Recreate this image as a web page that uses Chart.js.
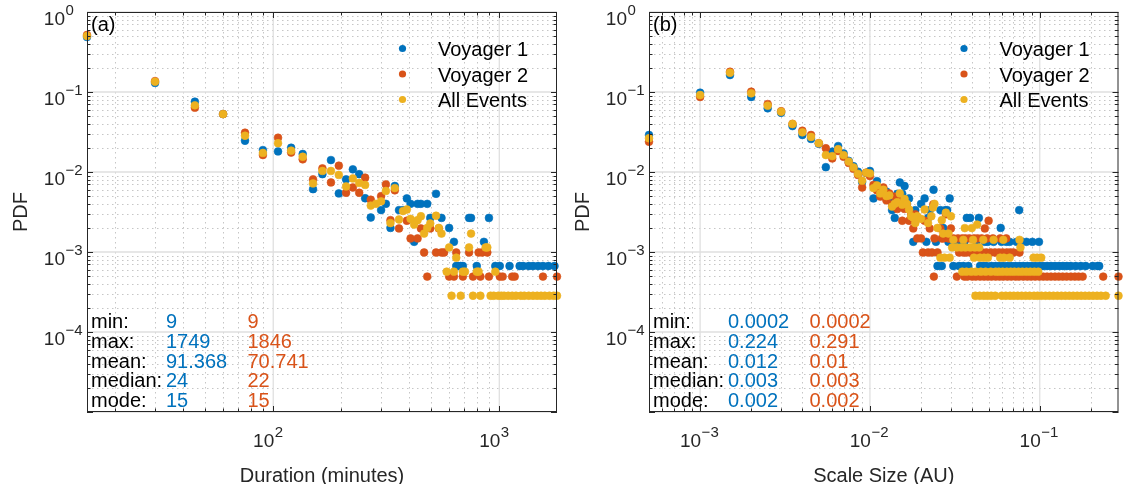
<!DOCTYPE html>
<html>
<head>
<meta charset="utf-8">
<script src="https://cdn.jsdelivr.net/npm/chart.js@4.4.1/dist/chart.umd.min.js"></script>
<style>
  html, body { margin: 0; padding: 0; background: #ffffff; }
  #wrap { position: relative; width: 1123px; height: 484px; overflow: hidden; }
  canvas { position: absolute; top: 0; }
  #ca { left: 0; }
  #cb { left: 562px; }
</style>
</head>
<body>
<div id="wrap">
  <canvas id="ca" width="562" height="484"></canvas>
  <canvas id="cb" width="561" height="484"></canvas>
</div>
<script>
// ---- series names, colours, summary statistics ----
const seriesNames = ['Voyager 1', 'Voyager 2', 'All Events'];
const seriesColors = ['#0072BD', '#D95319', '#EDB120'];
const statNames = ['min:', 'max:', 'mean:', 'median:', 'mode:'];
const durStatsV1 = ['9', '1749', '91.368', '24', '15'];
const durStatsV2 = ['9', '1846', '70.741', '22', '15'];
const sizeStatsV1 = ['0.0002', '0.224', '0.012', '0.003', '0.002'];
const sizeStatsV2 = ['0.0002', '0.291', '0.01', '0.003', '0.002'];

// ---- axis ranges ----
const durRange = [15, 1800];
const sizeRange = [0.0005, 0.291];
const pdfRange = [1e-5, 1];

// ---- (a) duration in minutes vs PDF ----
const durV1 = [
  [15,0.487],[30,0.13],[45,0.0757],[60,0.053],[75,0.0246],[90,0.0188],[105,0.0181],[120,0.0201],
  [135,0.0168],[150,0.0061],[165,0.0094],[180,0.0141],[195,0.0054],[210,0.0081],[225,0.0108],
  [240,0.0094],[255,0.0047],[270,0.0027],[300,0.00334],[315,0.004],[330,0.002],[345,0.00668],
  [360,0.00334],[375,0.00334],[390,0.00468],[405,0.004],[420,0.00134],[435,0.004],[450,0.004],
  [480,0.004],[495,0.00267],[525,0.00534],[555,0.00267],[600,0.002],[630,0.00134],[645,0.000668],
  [660,0.000668],[675,0.000668],[690,0.000668],[735,0.00267],[750,0.00267],[795,0.000668],
  [855,0.00134],[900,0.00267],[960,0.000668],[1005,0.000668],[1110,0.000668],[1230,0.000668],
  [1275,0.000668],[1350,0.000668],[1410,0.000668],[1485,0.000668],[1560,0.000668],[1650,0.000668],
  [1755,0.000668]
];
const durV2 = [
  [15,0.516],[30,0.137],[45,0.0637],[60,0.053],[75,0.031],[90,0.0163],[105,0.0268],[120,0.0175],
  [135,0.0144],[150,0.0081],[165,0.0111],[180,0.0074],[195,0.012],[210,0.0055],[225,0.0064],
  [240,0.0055],[255,0.0085],[270,0.0045],[300,0.005],[315,0.007],[330,0.0025],[345,0.0059],
  [360,0.00197],[390,0.00246],[405,0.00148],[435,0.00148],[450,0.00197],[465,0.000986],
  [480,0.000493],[495,0.00197],[525,0.000986],[540,0.00197],[555,0.000986],[570,0.000986],
  [600,0.000493],[630,0.000493],[645,0.000986],[690,0.000493],[735,0.000986],[765,0.000493],
  [810,0.000986],[825,0.000493],[840,0.000986],[885,0.000986],[900,0.000493],[1005,0.000493],
  [1035,0.000493],[1140,0.000493],[1170,0.000493],[1560,0.000493],[1800,0.000493]
];
const durAll = [
  [15,0.501],[30,0.1345],[45,0.0682],[60,0.053],[75,0.0284],[90,0.0173],[105,0.0229],[120,0.0185],
  [135,0.0155],[150,0.0072],[165,0.0103],[180,0.0103],[195,0.0092],[210,0.0066],[225,0.0083],
  [240,0.0073],[255,0.0069],[270,0.0038],[285,0.004],[300,0.0043],[315,0.0058],[330,0.0023],
  [345,0.0063],[360,0.00255],[375,0.00325],[390,0.0034],[405,0.0026],[420,0.0022],[435,0.0025],
  [450,0.0028],[465,0.0017],[480,0.002],[495,0.00227],[525,0.00284],[540,0.002],[555,0.0017],
  [585,0.000568],[600,0.00114],[615,0.000284],[630,0.000568],[645,0.00085],[675,0.000284],
  [690,0.000568],[705,0.000568],[735,0.00114],[750,0.0017],[765,0.000284],[795,0.000568],
  [810,0.000568],[825,0.000284],[870,0.00114],[885,0.00114],[915,0.000284],[945,0.000284],
  [960,0.000568],[990,0.000284],[1020,0.000284],[1050,0.000284],[1095,0.000284],[1140,0.000284],
  [1185,0.000284],[1245,0.000284],[1290,0.000284],[1350,0.000284],[1410,0.000284],[1470,0.000284],
  [1530,0.000284],[1590,0.000284],[1665,0.000284],[1740,0.000284],[1800,0.000284]
];

// ---- (b) scale size in AU vs PDF ----
const sizeV1 = [
  [0.0005,0.029],[0.001,0.098],[0.0015,0.163],[0.002,0.0866],[0.0025,0.0625],[0.003,0.055],
  [0.0035,0.0375],[0.004,0.029],[0.0045,0.0259],[0.005,0.0225],[0.0055,0.0115],[0.006,0.018],
  [0.0065,0.0211],[0.007,0.0171],[0.0075,0.0138],[0.008,0.0118],[0.0085,0.0101],[0.009,0.0075],
  [0.0095,0.0097],[0.01,0.0103],[0.0105,0.00468],[0.011,0.0077],[0.0115,0.006],[0.0125,0.0057],
  [0.013,0.00468],[0.0135,0.00334],[0.014,0.00267],[0.0145,0.00534],[0.015,0.0074],[0.0155,0.00534],
  [0.016,0.00668],[0.0165,0.004],[0.017,0.00468],[0.0175,0.00267],[0.018,0.00134],[0.0185,0.00334],
  [0.019,0.00267],[0.02,0.004],[0.021,0.00468],[0.0215,0.00134],[0.022,0.00267],[0.0225,0.00334],
  [0.0237,0.006],[0.0245,0.00134],[0.025,0.000668],[0.026,0.00334],[0.0265,0.000668],[0.027,0.002],
  [0.0278,0.00334],[0.0285,0.00334],[0.029,0.00134],[0.0295,0.00468],[0.0305,0.00134],[0.031,0.000668],
  [0.0315,0.00134],[0.0335,0.000668],[0.034,0.00134],[0.0355,0.000668],[0.036,0.00134],[0.0372,0.00267],
  [0.038,0.000668],[0.0389,0.00267],[0.0425,0.00134],[0.0438,0.00267],[0.0445,0.000668],[0.0465,0.000668],
  [0.0475,0.00134],[0.0485,0.000668],[0.0495,0.00134],[0.052,0.000668],[0.0535,0.00134],[0.055,0.000668],
  [0.058,0.000668],[0.0589,0.002],[0.0595,0.00134],[0.061,0.000668],[0.0635,0.00134],[0.0645,0.000668],
  [0.0665,0.00134],[0.068,0.000668],[0.072,0.000668],[0.073,0.00134],[0.0757,0.00334],[0.076,0.000668],
  [0.078,0.00134],[0.08,0.000668],[0.0835,0.00134],[0.0845,0.000668],[0.089,0.000668],[0.0905,0.00134],
  [0.094,0.000668],[0.099,0.00134],[0.0995,0.000668],[0.1045,0.000668],[0.1105,0.000668],[0.1165,0.000668],
  [0.123,0.000668],[0.13,0.000668],[0.137,0.000668],[0.1445,0.000668],[0.1525,0.000668],[0.163,0.000668],
  [0.1745,0.000668],[0.1865,0.000668],[0.205,0.000668],[0.219,0.000668],[0.224,0.000668]
];
const sizeV2 = [
  [0.0005,0.0239],[0.001,0.0866],[0.0015,0.179],[0.002,0.101],[0.0025,0.0707],[0.003,0.0575],
  [0.0035,0.04],[0.004,0.0328],[0.0045,0.029],[0.005,0.0229],[0.0055,0.0198],[0.006,0.0148],
  [0.0065,0.0183],[0.007,0.0155],[0.0075,0.013],[0.008,0.011],[0.0085,0.0092],[0.009,0.0064],
  [0.0095,0.0098],[0.01,0.0089],[0.0105,0.0069],[0.011,0.0059],[0.0115,0.00493],[0.012,0.0064],
  [0.0125,0.00443],[0.013,0.0054],[0.0135,0.00394],[0.014,0.00493],[0.0145,0.00345],[0.015,0.00443],
  [0.0155,0.00246],[0.016,0.00345],[0.0165,0.00394],[0.017,0.00246],[0.0175,0.00296],[0.018,0.00197],
  [0.0185,0.00296],[0.019,0.00148],[0.02,0.00148],[0.0205,0.000986],[0.021,0.00246],[0.022,0.000986],
  [0.0225,0.00197],[0.0232,0.000986],[0.0236,0.00394],[0.0238,0.000493],[0.024,0.00148],[0.025,0.000986],
  [0.026,0.00197],[0.0265,0.00148],[0.027,0.00148],[0.028,0.00296],[0.029,0.00148],[0.0295,0.00148],
  [0.03,0.00197],[0.031,0.00148],[0.0325,0.000493],[0.033,0.00148],[0.0335,0.000986],[0.035,0.00148],
  [0.0355,0.000986],[0.036,0.000493],[0.0365,0.00148],[0.037,0.000986],[0.0375,0.000493],[0.0385,0.00148],
  [0.039,0.000986],[0.04,0.000493],[0.041,0.00148],[0.0415,0.000986],[0.042,0.000493],[0.043,0.00148],
  [0.0435,0.000986],[0.0445,0.000493],[0.0455,0.00148],[0.046,0.000986],[0.047,0.000493],[0.0475,0.00197],
  [0.0485,0.000986],[0.049,0.00148],[0.0495,0.000493],[0.05,0.00246],[0.0515,0.000986],[0.052,0.000493],
  [0.053,0.00148],[0.0545,0.000986],[0.055,0.000493],[0.0575,0.000986],[0.058,0.000493],[0.0585,0.00148],
  [0.0605,0.000986],[0.061,0.000493],[0.0635,0.00148],[0.064,0.000986],[0.0645,0.000493],[0.067,0.000986],
  [0.068,0.000493],[0.07,0.000986],[0.072,0.000493],[0.0755,0.000493],[0.076,0.000986],[0.08,0.000493],
  [0.0845,0.000493],[0.089,0.000493],[0.094,0.000493],[0.0995,0.000493],[0.105,0.000493],[0.1105,0.000493],
  [0.1165,0.000493],[0.123,0.000493],[0.1295,0.000493],[0.1365,0.000493],[0.144,0.000493],[0.1525,0.000493],
  [0.161,0.000493],[0.1695,0.000493],[0.179,0.000493],[0.2365,0.000493],[0.291,0.000493]
];
const sizeAll = [
  [0.0005,0.0264],[0.001,0.0917],[0.0015,0.174],[0.002,0.0962],[0.0025,0.0675],[0.003,0.0567],
  [0.0035,0.0398],[0.004,0.0313],[0.0045,0.0274],[0.005,0.0229],[0.0055,0.0163],[0.006,0.0158],
  [0.0065,0.0193],[0.007,0.0163],[0.0075,0.0135],[0.008,0.0114],[0.0085,0.0095],[0.009,0.0078],
  [0.0095,0.0098],[0.01,0.0096],[0.0105,0.0063],[0.011,0.0068],[0.0115,0.0054],[0.012,0.006],
  [0.0125,0.005],[0.013,0.0051],[0.0135,0.0037],[0.014,0.004],[0.0145,0.0042],[0.015,0.0054],
  [0.0155,0.0039],[0.016,0.0046],[0.0165,0.004],[0.017,0.0034],[0.0175,0.0028],[0.018,0.0027],
  [0.0185,0.0023],[0.019,0.0028],[0.02,0.0026],[0.021,0.0034],[0.022,0.0023],[0.023,0.0028],
  [0.0235,0.0036],[0.024,0.004],[0.025,0.002],[0.026,0.00085],[0.0265,0.0025],[0.027,0.0017],
  [0.0275,0.00085],[0.028,0.0031],[0.029,0.0017],[0.0295,0.00085],[0.03,0.0028],[0.0305,0.00114],
  [0.031,0.00142],[0.0325,0.00114],[0.0345,0.00114],[0.035,0.000568],[0.0355,0.00142],
  [0.0362,0.00199],[0.0365,0.00114],[0.037,0.000568],[0.039,0.00114],[0.0395,0.000568],[0.0398,0.00199],
  [0.0405,0.00142],[0.041,0.00085],[0.0415,0.00114],[0.0418,0.000284],[0.042,0.000568],[0.0428,0.0022],
  [0.044,0.00114],[0.0443,0.000284],[0.0445,0.00085],[0.045,0.000568],[0.0465,0.00142],[0.0468,0.000284],
  [0.047,0.00085],[0.048,0.000568],[0.0492,0.000284],[0.0495,0.00085],[0.0515,0.000568],
  [0.0518,0.000284],[0.0535,0.00142],[0.0547,0.000284],[0.055,0.000568],
  [0.0575,0.000568],[0.0585,0.00085],[0.0598,0.000284],[0.0605,0.000568],[0.061,0.00142],
  [0.0615,0.00085],[0.0631,0.000284],[0.064,0.000568],[0.0665,0.00085],
  [0.0668,0.000284],[0.0675,0.000568],[0.0703,0.000284],[0.071,0.000568],[0.0742,0.000284],[0.075,0.000568],
  [0.076,0.00142],[0.077,0.00114],[0.0783,0.000284],[0.079,0.000568],[0.0826,0.000284],[0.0835,0.000568],
  [0.0872,0.000284],[0.088,0.000568],[0.092,0.00085],[0.0925,0.000284],[0.093,0.000568],[0.0965,0.00085],
  [0.0971,0.000284],[0.098,0.000568],[0.102,0.00085],[0.1024,0.000284],[0.1081,0.000284],[0.1141,0.000284],
  [0.1204,0.000284],[0.1271,0.000284],[0.1341,0.000284],[0.1415,0.000284],[0.1493,0.000284],[0.1575,0.000284],
  [0.1662,0.000284],[0.1754,0.000284],[0.1851,0.000284],[0.1953,0.000284],[0.2061,0.000284],[0.2175,0.000284],
  [0.2295,0.000284],[0.2446,0.000284],[0.291,0.000284]
];

// ---- drawing helpers ----
const FAMILY = '"Liberation Sans", Arial, Helvetica, sans-serif';
const INK = '#262626';

function logTicks(min, max) {
  const out = [];
  const e0 = Math.floor(Math.log10(min) + 1e-9), e1 = Math.ceil(Math.log10(max) - 1e-9);
  for (let e = e0; e <= e1; e++) {
    for (let m = 1; m <= 9; m++) {
      const v = m * Math.pow(10, e);
      if (v >= min * 0.9999 && v <= max * 1.0001) out.push({ v, e, major: m === 1 });
    }
  }
  return out;
}

// "10" followed by a raised exponent; the right edge of "10" sits at baseX
function drawPower(ctx, e, baseX, baseY) {
  const es = e < 0 ? '\u2212' + (-e) : String(e);
  ctx.fillStyle = INK;
  ctx.textAlign = 'right'; ctx.textBaseline = 'alphabetic';
  ctx.font = '19px ' + FAMILY; ctx.fillText('10', baseX, baseY);
  ctx.textAlign = 'left';
  ctx.font = '15px ' + FAMILY; ctx.fillText(es, baseX + 0.5, baseY - 10);
}

const panelDecor = {
  id: 'panelDecor',
  beforeDatasetsDraw(chart, args, opts) {
    const { ctx, chartArea: a, scales: { x, y } } = chart;
    ctx.save();
    const xt = logTicks(x.min, x.max), yt = logTicks(y.min, y.max);
    // minor grid, dotted
    ctx.strokeStyle = '#c6c6c6'; ctx.lineWidth = 1; ctx.setLineDash([1.5, 3.5]);
    ctx.beginPath();
    xt.filter(t => !t.major).forEach(t => { const px = Math.round(x.getPixelForValue(t.v)) + 0.5; ctx.moveTo(px, a.top); ctx.lineTo(px, a.bottom); });
    yt.filter(t => !t.major).forEach(t => { const py = Math.round(y.getPixelForValue(t.v)) + 0.5; ctx.moveTo(a.left, py); ctx.lineTo(a.right, py); });
    ctx.stroke();
    // major grid, solid
    ctx.setLineDash([]); ctx.strokeStyle = '#e0e0e0'; ctx.lineWidth = 1.3;
    ctx.beginPath();
    xt.filter(t => t.major).forEach(t => { const px = x.getPixelForValue(t.v); ctx.moveTo(px, a.top); ctx.lineTo(px, a.bottom); });
    yt.filter(t => t.major).forEach(t => { const py = y.getPixelForValue(t.v); ctx.moveTo(a.left, py); ctx.lineTo(a.right, py); });
    ctx.stroke();
    ctx.restore();
  },
  afterDatasetsDraw(chart, args, opts) {
    const { ctx, chartArea: a, scales: { x, y } } = chart;
    ctx.save();
    const xt = logTicks(x.min, x.max), yt = logTicks(y.min, y.max);
    // box and inward ticks on all four sides
    ctx.strokeStyle = INK; ctx.lineWidth = 1;
    ctx.strokeRect(a.left + 0.5, a.top + 0.5, a.right - a.left - 1, a.bottom - a.top - 1);
    ctx.beginPath();
    xt.forEach(t => {
      const px = Math.round(x.getPixelForValue(t.v)) + 0.5, L = t.major ? 6 : 3.5;
      ctx.moveTo(px, a.bottom); ctx.lineTo(px, a.bottom - L);
      ctx.moveTo(px, a.top); ctx.lineTo(px, a.top + L);
    });
    yt.forEach(t => {
      const py = Math.round(y.getPixelForValue(t.v)) + 0.5, L = t.major ? 6 : 3.5;
      ctx.moveTo(a.left, py); ctx.lineTo(a.left + L, py);
      ctx.moveTo(a.right, py); ctx.lineTo(a.right - L, py);
    });
    ctx.stroke();
    // tick labels (the lowest decade sits on the frame and carries no label)
    xt.filter(t => t.major).forEach(t => drawPower(ctx, t.e, x.getPixelForValue(t.v) + 1, a.bottom + 34.5));
    yt.filter(t => t.major && t.v > y.min * 1.001)
      .forEach(t => drawPower(ctx, t.e, a.left - 22, y.getPixelForValue(t.v) + 13));
    // axis titles
    ctx.fillStyle = INK; ctx.font = '20px ' + FAMILY;
    ctx.textAlign = 'center'; ctx.textBaseline = 'alphabetic';
    ctx.fillText(opts.xTitle, (a.left + a.right) / 2, a.bottom + 70);
    ctx.save();
    ctx.translate(a.left - 60, (a.top + a.bottom) / 2);
    ctx.rotate(-Math.PI / 2);
    ctx.fillText('PDF', 0, 0);
    ctx.restore();
    // panel tag
    ctx.textAlign = 'left'; ctx.fillStyle = '#000';
    ctx.fillText(opts.tag, a.left + 4, a.top + 19);
    // legend, upper right
    seriesNames.forEach((name, i) => {
      const cy = a.top + 36.5 + i * 25.5;
      ctx.fillStyle = seriesColors[i];
      ctx.beginPath(); ctx.arc(a.right - 154.5, cy, 3.6, 0, Math.PI * 2); ctx.fill();
      ctx.fillStyle = '#000';
      ctx.fillText(name, a.right - 119, cy + 7.5);
    });
    // summary statistics, lower left
    statNames.forEach((s, i) => {
      const by = a.top + 316.3 + i * 19.6;
      ctx.fillStyle = '#000'; ctx.fillText(s, a.left + 4, by);
      ctx.fillStyle = seriesColors[0]; ctx.fillText(opts.statsA[i], a.left + 79, by);
      ctx.fillStyle = seriesColors[1]; ctx.fillText(opts.statsB[i], a.left + 160.5, by);
    });
    ctx.restore();
  }
};

function makeDatasets(v1, v2, all) {
  return [v1, v2, all].map((arr, i) => ({
    label: seriesNames[i],
    data: arr.map(p => ({ x: p[0], y: p[1] })),
    backgroundColor: seriesColors[i],
    borderColor: seriesColors[i],
    pointRadius: 3.9,
    pointBorderWidth: 0.6,
    pointHoverRadius: 3.9,
    order: 3 - i,
    clip: false
  }));
}

function makeChart(id, v1, v2, all, xr, rightPad, decor) {
  return new Chart(document.getElementById(id), {
    type: 'scatter',
    data: { datasets: makeDatasets(v1, v2, all) },
    options: {
      responsive: false,
      animation: false,
      events: [],
      devicePixelRatio: 1,
      layout: { padding: { top: 12, right: rightPad, left: 0, bottom: 0 } },
      plugins: { legend: { display: false }, tooltip: { enabled: false }, panelDecor: decor },
      scales: {
        x: {
          type: 'logarithmic', min: xr[0], max: xr[1],
          grid: { display: false }, border: { display: false }, ticks: { display: false },
          afterFit(s) { s.height = 72; }
        },
        y: {
          type: 'logarithmic', min: pdfRange[0], max: pdfRange[1],
          grid: { display: false }, border: { display: false }, ticks: { display: false },
          afterFit(s) { s.width = 87; }
        }
      }
    },
    plugins: [panelDecor]
  });
}

makeChart('ca', durV1, durV2, durAll, durRange, 5,
  { tag: '(a)', xTitle: 'Duration (minutes)', statsA: durStatsV1, statsB: durStatsV2 });
makeChart('cb', sizeV1, sizeV2, sizeAll, sizeRange, 1,
  { tag: '(b)', xTitle: 'Scale Size (AU)', statsA: sizeStatsV1, statsB: sizeStatsV2 });
</script>
</body>
</html>
